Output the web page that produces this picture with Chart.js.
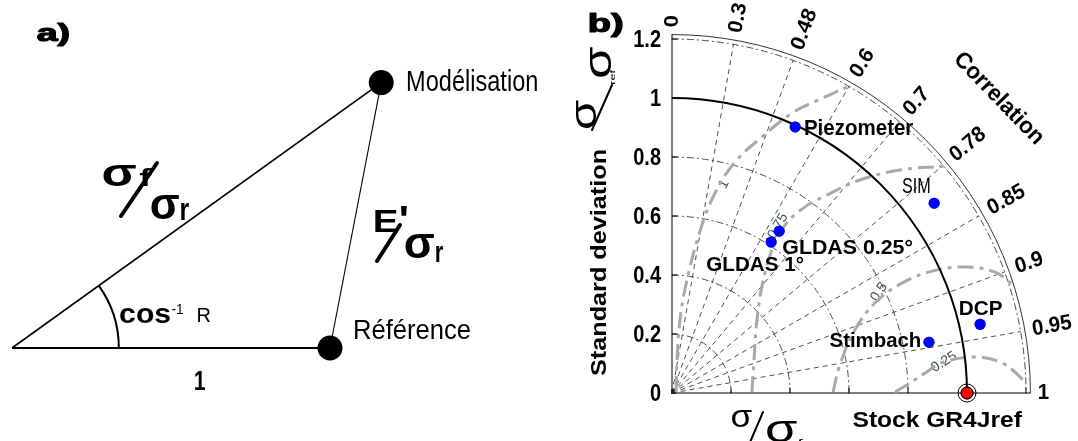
<!DOCTYPE html>
<html><head><meta charset="utf-8">
<script src="https://cdn.jsdelivr.net/npm/chart.js@4.4.1/dist/chart.umd.min.js"></script>
<style>
html,body{margin:0;padding:0;background:#fff;width:1078px;height:441px;overflow:hidden}
canvas{position:absolute;top:0}
#ca{left:0}
#cb{left:540px}
</style></head><body>
<canvas id="ca" width="540" height="441"></canvas>
<canvas id="cb" width="538" height="441"></canvas>
<script>
// ---------- Panel a (schema) ----------
const schemaRefStd = 1;
const schemaModelStd = 1.43;
const schemaModelCorr = 0.812;
const schemaArcRadius = 0.336;

// ---------- Panel b (Taylor diagram) ----------
const stationNames = ['Piezometer', 'SIM', 'GLDAS 0.25°', 'GLDAS 1°', 'Stimbach', 'DCP'];
const stationStd  = [0.994, 1.097, 0.658, 0.612, 0.888, 1.070];
const stationCorr = [0.420, 0.810, 0.552, 0.549, 0.981, 0.976];
const refName = 'Stock GR4Jref';
const refStd = 1.0;
const stdTicks = [0, 0.2, 0.4, 0.6, 0.8, 1, 1.2];
const stdTickLabels = ['0', '0.2', '0.4', '0.6', '0.8', '1', '1.2'];
const stdGridCircles = [0.2, 0.4, 0.6, 0.8, 1.2];
const corrTickLabels = ['0', '0.3', '0.48', '0.6', '0.7', '0.78', '0.85', '0.9', '0.95', '1'];
const corrTickAngles = [90, 80, 70, 60, 50, 40, 30, 20, 10, 0];
// gray contour lines (normalised std units)
const contourLabels = ['0.25', '0.5', '0.75', '1'];
const contour025X = [0.756, 0.807, 0.858, 0.922, 1.031, 1.112, 1.163, 1.197];
const contour025Y = [0.003, 0.034, 0.068, 0.105, 0.122, 0.105, 0.071, 0.034];
const contour050X = [0.546, 0.569, 0.620, 0.688, 0.773, 0.885, 0.997, 1.095, 1.153];
const contour050Y = [0.003, 0.095, 0.214, 0.305, 0.369, 0.414, 0.427, 0.410, 0.369];
const contour075X = [0.271, 0.278, 0.288, 0.308, 0.339, 0.383, 0.451, 0.525, 0.637, 0.773, 0.925];
const contour075Y = [0.003, 0.112, 0.247, 0.376, 0.485, 0.569, 0.631, 0.671, 0.722, 0.756, 0.769];
const contour100X = [0.014, 0.017, 0.027, 0.047, 0.095, 0.146, 0.214, 0.305, 0.407, 0.495, 0.593];
const contour100Y = [0.003, 0.112, 0.247, 0.366, 0.549, 0.678, 0.783, 0.868, 0.949, 0.993, 1.037];
const contourLabelX = [0.922, 0.702, 0.359, 0.176];
const contourLabelY = [0.105, 0.342, 0.566, 0.708];

const FONT = '"Liberation Sans", Arial, Helvetica, sans-serif';
const toXY = (s, c) => ({ x: s * c, y: s * Math.sqrt(Math.max(0, 1 - c * c)) });
const zipXY = (xs, ys) => xs.map((x, i) => ({ x, y: ys[i] }));

function fitText(ctx, str, cx, cy, w, h, o = {}) {
  ctx.save();
  ctx.font = (o.bold ? 'bold ' : '') + '100px ' + FONT;
  const m = ctx.measureText(str);
  const iw = m.actualBoundingBoxLeft + m.actualBoundingBoxRight;
  const ih = m.actualBoundingBoxAscent + m.actualBoundingBoxDescent;
  ctx.translate(cx, cy);
  ctx.rotate((o.rot || 0) * Math.PI / 180);
  ctx.scale(w / iw, h / ih);
  ctx.textAlign = 'left';
  ctx.textBaseline = 'alphabetic';
  const icx = (m.actualBoundingBoxRight - m.actualBoundingBoxLeft) / 2;
  const icy = (m.actualBoundingBoxDescent - m.actualBoundingBoxAscent) / 2;
  ctx.fillStyle = o.color || '#000';
  ctx.fillText(str, -icx, -icy);
  if (o.stroke) {
    ctx.lineWidth = o.stroke / Math.min(w / iw, h / ih);
    ctx.strokeStyle = o.color || '#000';
    ctx.lineJoin = 'round';
    ctx.strokeText(str, -icx, -icy);
  }
  ctx.restore();
}
function drawText(ctx, str, x, y, o = {}) {
  ctx.save();
  ctx.translate(x, y);
  const sy = o.sy || 1;
  ctx.scale(1, sy);
  const phi = (o.rot || 0) * Math.PI / 180;
  ctx.rotate(Math.atan2(Math.sin(phi) / sy, Math.cos(phi)));
  ctx.font = (o.bold ? 'bold ' : '') + o.size + 'px ' + FONT;
  ctx.textAlign = o.align || 'left';
  ctx.textBaseline = o.baseline || 'alphabetic';
  ctx.fillStyle = o.color || '#000';
  ctx.fillText(str, 0, 0);
  ctx.restore();
}
function line(ctx, x1, y1, x2, y2, lw, col) {
  ctx.save(); ctx.beginPath(); ctx.moveTo(x1, y1); ctx.lineTo(x2, y2);
  ctx.lineWidth = lw; ctx.strokeStyle = col || '#000'; ctx.lineCap = 'round'; ctx.stroke(); ctx.restore();
}

// ================= Chart A =================
const PXU_A = 318;
const modelPt = toXY(schemaModelStd, schemaModelCorr);
const schemaPlugin = {
  id: 'schema',
  afterDatasetsDraw(chart) {
    const ctx = chart.ctx, xs = chart.scales.x, ys = chart.scales.y;
    const ox = xs.getPixelForValue(0), oy = ys.getPixelForValue(0);
    const r = xs.getPixelForValue(schemaArcRadius) - ox;
    const ang = Math.acos(schemaModelCorr);
    ctx.save();
    ctx.beginPath(); ctx.arc(ox, oy, r, -ang, 0);
    ctx.lineWidth = 2; ctx.strokeStyle = '#000'; ctx.stroke();
    ctx.restore();
    fitText(ctx, 'a)', 53, 34.5, 31, 22, { bold: true, stroke: 1.2 });
    fitText(ctx, 'Modélisation', 472.5, 80, 129, 22);
    fitText(ctx, 'Référence', 412.5, 328.5, 115, 21);
    fitText(ctx, '1', 200, 380.5, 10, 19, { bold: true });
    fitText(ctx, 'cos', 145, 315.5, 50, 15, { bold: true });
    fitText(ctx, '-1', 177.5, 309, 11, 10);
    fitText(ctx, 'R', 204, 315, 12, 14);
    fitText(ctx, 'σ', 119.5, 175.5, 33, 21, { bold: true });
    fitText(ctx, 'f', 145.5, 177.5, 12, 17, { bold: true });
    line(ctx, 121, 216, 157, 163, 4);
    fitText(ctx, 'σ', 165, 207.5, 28, 24, { bold: true });
    fitText(ctx, 'r', 185, 211.5, 8, 17, { bold: true });
    fitText(ctx, 'E', 386, 221, 22, 22, { bold: true });
    fitText(ctx, '\'', 404, 211, 6, 10, { bold: true });
    line(ctx, 377, 261, 400, 225, 4);
    fitText(ctx, 'σ', 419.5, 246, 29, 24, { bold: true });
    fitText(ctx, 'r', 439.5, 254, 7, 16, { bold: true });
  }
};
new Chart(document.getElementById('ca'), {
  type: 'scatter',
  data: {
    datasets: [
      { data: [{ x: 0, y: 0 }, { x: schemaRefStd, y: 0 }], showLine: true, borderColor: '#000', borderWidth: 2, pointRadius: 0 },
      { data: [{ x: 0, y: 0 }, modelPt], showLine: true, borderColor: '#000', borderWidth: 1.6, pointRadius: 0 },
      { data: [{ x: schemaRefStd, y: 0 }, modelPt], showLine: true, borderColor: '#000', borderWidth: 1.1, pointRadius: 0 },
      { data: [{ x: schemaRefStd, y: 0 }, modelPt], showLine: false, pointRadius: 12.5, pointBackgroundColor: '#000', pointBorderColor: '#000', pointBorderWidth: 0 }
    ]
  },
  options: {
    responsive: false, animation: false, events: [],
    layout: { padding: 0, autoPadding: false },
    scales: {
      x: { type: 'linear', display: false, min: -12 / PXU_A, max: (540 - 12) / PXU_A },
      y: { type: 'linear', display: false, min: (348 - 441) / PXU_A, max: 348 / PXU_A }
    },
    plugins: { legend: { display: false }, tooltip: { enabled: false } }
  },
  plugins: [schemaPlugin]
});

// ================= Chart B =================
const OXB = 540;
const RMAX = 1.215;
const taylorPlugin = {
  id: 'taylor',
  beforeDatasetsDraw(chart) {
    const ctx = chart.ctx, xs = chart.scales.x, ys = chart.scales.y;
    const ox = xs.getPixelForValue(0), oy = ys.getPixelForValue(0);
    const u = xs.getPixelForValue(1) - ox;
    ctx.save();
    ctx.setLineDash([5, 4]); ctx.lineWidth = 0.8; ctx.strokeStyle = '#222';
    corrTickAngles.forEach(a => {
      if (a === 0 || a === 90) return;
      const t = a * Math.PI / 180;
      ctx.beginPath(); ctx.moveTo(ox, oy);
      ctx.lineTo(ox + 1.2 * u * Math.cos(t), oy - 1.2 * u * Math.sin(t)); ctx.stroke();
    });
    ctx.setLineDash([7, 3, 2, 3]); ctx.lineWidth = 0.8;
    stdGridCircles.forEach(s => {
      ctx.beginPath(); ctx.arc(ox, oy, s * u, -Math.PI / 2, 0); ctx.stroke();
    });
    ctx.setLineDash([]); ctx.lineWidth = 1; ctx.strokeStyle = '#333';
    ctx.beginPath(); ctx.arc(ox, oy, RMAX * u, -Math.PI / 2, 0); ctx.stroke();
    line(ctx, ox, oy, ox, oy - RMAX * u, 1);
    line(ctx, ox, oy, ox + RMAX * u, oy, 1);
    stdTicks.forEach(s => {
      if (s === 0) return;
      const px = xs.getPixelForValue(s), py = ys.getPixelForValue(s);
      line(ctx, ox, py, ox + 5, py, 1);
      line(ctx, px, oy, px, oy - 5, 1);
    });
    ctx.fillStyle = '#222'; ctx.fillRect(ox - 1, oy - 4, 5, 5);
    const labRot = [-32, -55, -60, -62];
    contourLabels.forEach((lab, i) => {
      drawText(ctx, lab, xs.getPixelForValue(contourLabelX[i]), ys.getPixelForValue(contourLabelY[i]),
        { size: 14, color: '#35564e', align: 'center', baseline: 'middle', rot: labRot[i] });
    });
    ctx.restore();
  },
  afterDatasetsDraw(chart) {
    const ctx = chart.ctx, xs = chart.scales.x, ys = chart.scales.y;
    const ox = xs.getPixelForValue(0), oy = ys.getPixelForValue(0);
    const u = xs.getPixelForValue(1) - ox;
    const rp = chart.getDatasetMeta(5).data[0];
    ctx.save();
    ctx.lineWidth = 2; ctx.strokeStyle = '#000';
    ctx.beginPath(); ctx.arc(ox, oy, refStd * u, -Math.PI / 2, 0); ctx.stroke();
    ctx.beginPath(); ctx.arc(rp.x, rp.y, 9, 0, 2 * Math.PI); ctx.lineWidth = 1; ctx.stroke();
    ctx.restore();
    chart.getDatasetMeta(4).data.forEach(p => p.draw(ctx));
    rp.draw(ctx);
    stdTicks.forEach((s, i) => {
      drawText(ctx, stdTickLabels[i], 661 - OXB, ys.getPixelForValue(s) + 1, { size: 20, bold: true, align: 'right', baseline: 'middle', sy: 1.22 });
    });
    corrTickAngles.forEach((a, i) => {
      const t = a * Math.PI / 180;
      drawText(ctx, corrTickLabels[i], ox + 1.24 * u * Math.cos(t), oy - 1.24 * u * Math.sin(t),
        { size: 20.5, bold: true, align: 'left', baseline: 'middle', rot: -a, sy: 1.06 });
    });
    fitText(ctx, 'Correlation', 1000 - OXB, 97, 117, 17, { bold: true, rot: 46 });
    fitText(ctx, 'Standard deviation', 598 - OXB, 263, 225, 16, { bold: true, rot: -90 });
    fitText(ctx, 'b)', 606 - OXB, 25, 32, 24, { bold: true, stroke: 1.2 });
    const offs = [[64, 0], [-18, -18], [68.5, 15.5], [-16, 21.5], [-54, -2.5], [1, -16.5]];
    const sizes = [[108, 16], [27, 16], [129, 15], [96, 15], [90, 15], [42, 15]];
    const bolds = [true, false, true, true, true, true];
    chart.getDatasetMeta(4).data.forEach((p, i) => {
      fitText(ctx, stationNames[i], p.x + offs[i][0], p.y + offs[i][1], sizes[i][0], sizes[i][1], { bold: bolds[i] });
    });
    fitText(ctx, refName, rp.x - 29.5, rp.y + 25.5, 169, 17, { bold: true });
    // sigma / sigma_ref : rotated (left) and horizontal (bottom)
    fitText(ctx, 'σ', 586 - OXB, 114, 28, 20, { rot: -90 });
    line(ctx, 592 - OXB, 130, 612 - OXB, 85, 2);
    fitText(ctx, 'σ', 601 - OXB, 62, 30, 21, { rot: -90 });
    fitText(ctx, 'ref', 612 - OXB, 77, 14, 6, { rot: -90 });
    fitText(ctx, 'σ', 742 - OXB, 418.5, 20, 17);
    line(ctx, 748 - OXB, 447, 763 - OXB, 412, 2);
    fitText(ctx, 'σ', 782 - OXB, 432, 30, 21);
    fitText(ctx, 'ref', 791.5 - OXB, 443.5, 23, 8);
  }
};
const contourStyle = { showLine: true, pointRadius: 0, borderColor: '#a9a9a9', borderWidth: 3, borderDash: [16, 6, 4, 6], tension: 0.4, clip: false };
const stationData = stationStd.map((s, i) => toXY(s, stationCorr[i]));
new Chart(document.getElementById('cb'), {
  type: 'scatter',
  data: {
    datasets: [
      Object.assign({ data: zipXY(contour025X, contour025Y) }, contourStyle),
      Object.assign({ data: zipXY(contour050X, contour050Y) }, contourStyle),
      Object.assign({ data: zipXY(contour075X, contour075Y) }, contourStyle),
      Object.assign({ data: zipXY(contour100X, contour100Y) }, contourStyle),
      { data: stationData, pointRadius: 5.5, pointBackgroundColor: '#0000ff', pointBorderColor: '#0000ff', pointBorderWidth: 0, clip: false },
      { data: [toXY(refStd, 1)], pointRadius: 6, pointBackgroundColor: '#ff0000', pointBorderColor: '#000', pointBorderWidth: 1, clip: false }
    ]
  },
  options: {
    responsive: false, animation: false, events: [],
    layout: { autoPadding: false, padding: { left: 672 - OXB, right: 538 - (672 - OXB) - RMAX * 295, top: 393 - RMAX * 295, bottom: 48 } },
    scales: {
      x: { type: 'linear', display: false, min: 0, max: RMAX },
      y: { type: 'linear', display: false, min: 0, max: RMAX }
    },
    plugins: { legend: { display: false }, tooltip: { enabled: false } }
  },
  plugins: [taylorPlugin]
});
</script>
</body></html>
